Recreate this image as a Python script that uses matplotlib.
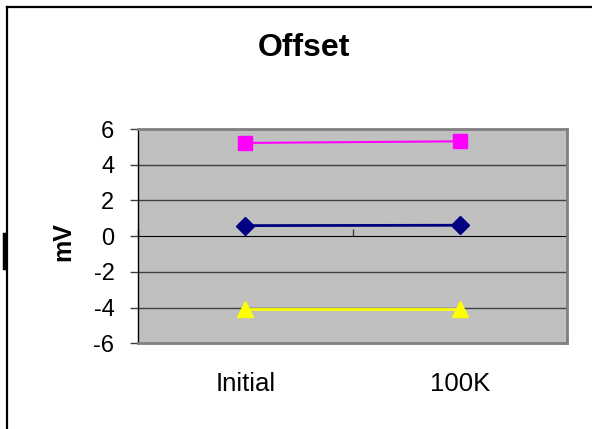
# -*- coding: utf-8 -*-
"""Offset 漂移 (Initial -> 100K)"""

import matplotlib
matplotlib.use('Agg')
import matplotlib.pyplot as plt
from matplotlib.lines import Line2D

plt.rcParams['font.family'] = ['Liberation Sans', 'DejaVu Sans']

categories = ['Initial', '100K']
offset_pink = [5.22, 5.31]
offset_navy = [0.59, 0.61]
offset_yellow = [-4.08, -4.08]
y_ticks = [-6, -4, -2, 0, 2, 4, 6]

fig = plt.figure(figsize=(5.92, 4.29), dpi=100)
ax = fig.add_axes([0.2331, 0.1998, 0.7247, 0.4995])
ax.set_facecolor('#C0C0C0')

x = range(len(categories))
ax.plot(x, offset_pink, '-s', color='#FF00FF', lw=1.5, ms=10.5, zorder=4)
ax.plot(x, offset_navy, '-D', color='#000080', lw=2, ms=9, zorder=4)
ax.plot(x, offset_yellow, '-^', color='#FFFF00', lw=2, ms=11, zorder=4)

ax.set_xlim(-0.5, len(categories) - 0.5)
ax.set_ylim(-6, 6)
ax.set_yticks(y_ticks)
ax.set_yticklabels([str(v) for v in y_ticks], fontsize=17)
ax.tick_params(axis='y', length=6, width=1, color='#404040', pad=11)
ax.set_xticks(list(x))
ax.set_xticklabels(categories, fontsize=18.5)
ax.tick_params(axis='x', length=0, pad=21)

# 网格线
for v in y_ticks:
    if v != 0:
        ax.axhline(v, color='#404040', lw=1, zorder=1)

# 边框
for s in ['top', 'right', 'bottom']:
    ax.spines[s].set_color('#808080')
    ax.spines[s].set_linewidth(2)
ax.spines['left'].set_color('black')
ax.spines['left'].set_linewidth(1)

# 零线处的分类轴
sec = ax.secondary_xaxis(0.5)
sec.set_xticks([-0.5, 0.5, len(categories) - 0.5])
sec.set_xticklabels([])
sec.tick_params(length=5, width=1, color='#404040')
sec.spines['bottom'].set_color('black')
sec.spines['bottom'].set_linewidth(1)

ax.set_ylabel('mV', fontsize=18, fontweight='bold', va='center')
ax.yaxis.set_label_coords(-0.175, 0.477)

fig.text(0.5127, 0.888, 'Offset', ha='center', va='center',
         fontsize=23, fontweight='bold')

# 图表外框
fig.add_artist(Line2D([7 / 592, 1], [1 - 7 / 429, 1 - 7 / 429],
                      transform=fig.transFigure, color='black', lw=1.6))
fig.add_artist(Line2D([7 / 592, 7 / 592], [0, 1 - 7 / 429],
                      transform=fig.transFigure, color='black', lw=1.6))
fig.add_artist(Line2D([4 / 592, 4 / 592], [1 - 234 / 429, 1 - 268 / 429],
                      transform=fig.transFigure, color='black', lw=2.5))

fig.savefig('out.png', dpi=100)
